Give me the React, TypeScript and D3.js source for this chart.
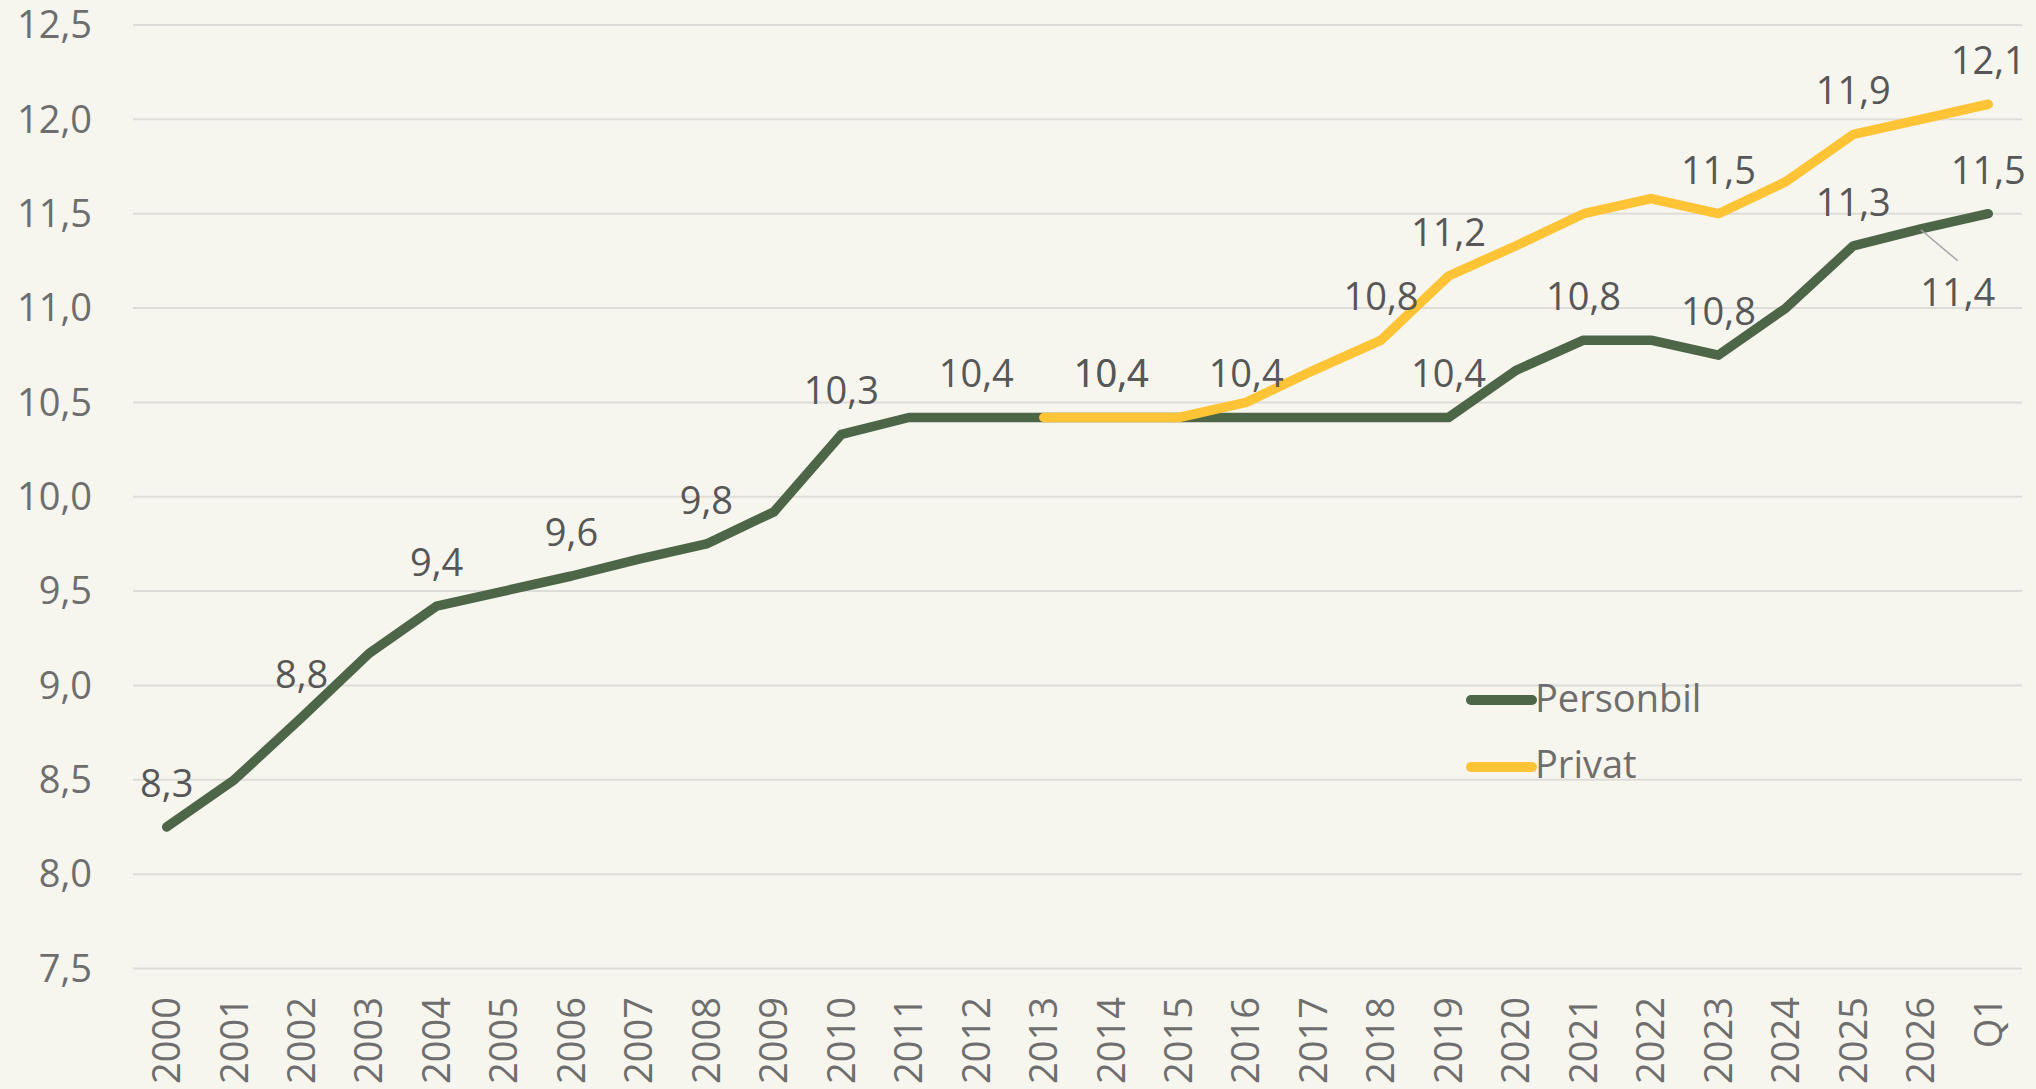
import React, { useEffect } from 'react';
import * as d3 from 'd3';

const categories = [
  '2000', '2001', '2002', '2003', '2004', '2005', '2006', '2007', '2008', '2009',
  '2010', '2011', '2012', '2013', '2014', '2015', '2016', '2017', '2018', '2019',
  '2020', '2021', '2022', '2023', '2024', '2025', '2026', 'Q1',
];

const personbil = [
  8.25, 8.5, 8.83, 9.17, 9.42, 9.5, 9.58, 9.67, 9.75, 9.92,
  10.33, 10.42, 10.42, 10.42, 10.42, 10.42, 10.42, 10.42, 10.42, 10.42,
  10.67, 10.83, 10.83, 10.75, 11.0, 11.33, 11.42, 11.5,
];

const privat: (number | null)[] = [
  null, null, null, null, null, null, null, null, null, null,
  null, null, null, 10.42, 10.42, 10.42, 10.5, 10.67, 10.83, 11.17,
  11.33, 11.5, 11.58, 11.5, 11.67, 11.92, 12.0, 12.08,
];

const yTicks = [7.5, 8, 8.5, 9, 9.5, 10, 10.5, 11, 11.5, 12, 12.5];

// which points get a data label
const personbilLabels = ['2000', '2002', '2004', '2006', '2008', '2010', '2012', '2014', '2016', '2019', '2021', '2023', '2025', 'Q1'];
const privatLabels = ['2014', '2018', '2019', '2023', '2025', 'Q1'];
const personbilCallout = '2026';

const W = 2036;
const H = 1089;
const FONT = '"Open Sans", "Liberation Sans", Arial, sans-serif';
const GREEN = '#4e6648';
const YELLOW = '#ffc336';
const BG = '#f6f5ee';
const GRID = '#dedcd8';
const AXIS_TEXT = '#6e6e6e';
const LABEL_TEXT = '#575757';

const fmt = (v: number) => v.toFixed(1).replace('.', ',');

export default function App() {
  useEffect(() => {
    document.body.style.margin = '0';
    document.body.style.background = BG;
  }, []);

  const x = d3.scalePoint<string>().domain(categories).range([133, 2022]).padding(0.5);
  const y = d3.scaleLinear().domain([7.5, 12.5]).range([968.5, 25]);

  const line = d3.line<number | null>()
    .defined(d => d != null)
    .x((_, i) => x(categories[i]) as number)
    .y(d => y(d as number));

  const label = (cat: string, v: number, key: string) => (
    <text key={key} x={x(cat)} y={y(v) - 30} textAnchor="middle" fill={LABEL_TEXT} fontSize={38}>
      {fmt(v)}
    </text>
  );

  const ci = categories.indexOf(personbilCallout);
  const cx = x(personbilCallout) as number;
  const cy = y(personbil[ci]);

  return (
    <svg width={W} height={H} style={{ display: 'block', background: BG }} fontFamily={FONT}>
      <rect width={W} height={H} fill={BG} />
      {yTicks.map(t => (
        <g key={t}>
          <line x1={133} x2={2022} y1={y(t)} y2={y(t)} stroke={GRID} strokeWidth={2} />
          <text x={92} y={y(t)} dy="0.35em" textAnchor="end" fill={AXIS_TEXT} fontSize={38}>
            {fmt(t)}
          </text>
        </g>
      ))}
      {categories.map(c => (
        <text
          key={c}
          transform={`translate(${x(c)},997) rotate(-90)`}
          dy="0.35em"
          textAnchor="end"
          fill={AXIS_TEXT}
          fontSize={38}
        >
          {c}
        </text>
      ))}

      <path d={line(personbil) || ''} fill="none" stroke={GREEN} strokeWidth={9.5} strokeLinecap="round" strokeLinejoin="round" />
      <path d={line(privat) || ''} fill="none" stroke={YELLOW} strokeWidth={9.5} strokeLinecap="round" strokeLinejoin="round" />

      {personbilLabels.map(c => label(c, personbil[categories.indexOf(c)], 'p' + c))}
      {privatLabels.map(c => label(c, privat[categories.indexOf(c)] as number, 'v' + c))}

      <line x1={cx} y1={cy + 1} x2={cx + 37} y2={cy + 32} stroke="#a6a6a6" strokeWidth={1.5} />
      <text x={cx + 37} y={cy + 77} textAnchor="middle" fill={LABEL_TEXT} fontSize={38}>
        {fmt(personbil[ci])}
      </text>

      <g fontSize={38} fill={AXIS_TEXT}>
        <line x1={1471} x2={1532} y1={700} y2={700} stroke={GREEN} strokeWidth={10} strokeLinecap="round" />
        <text x={1535} y={712}>Personbil</text>
        <line x1={1471} x2={1532} y1={767} y2={767} stroke={YELLOW} strokeWidth={10} strokeLinecap="round" />
        <text x={1535} y={778}>Privat</text>
      </g>
    </svg>
  );
}
